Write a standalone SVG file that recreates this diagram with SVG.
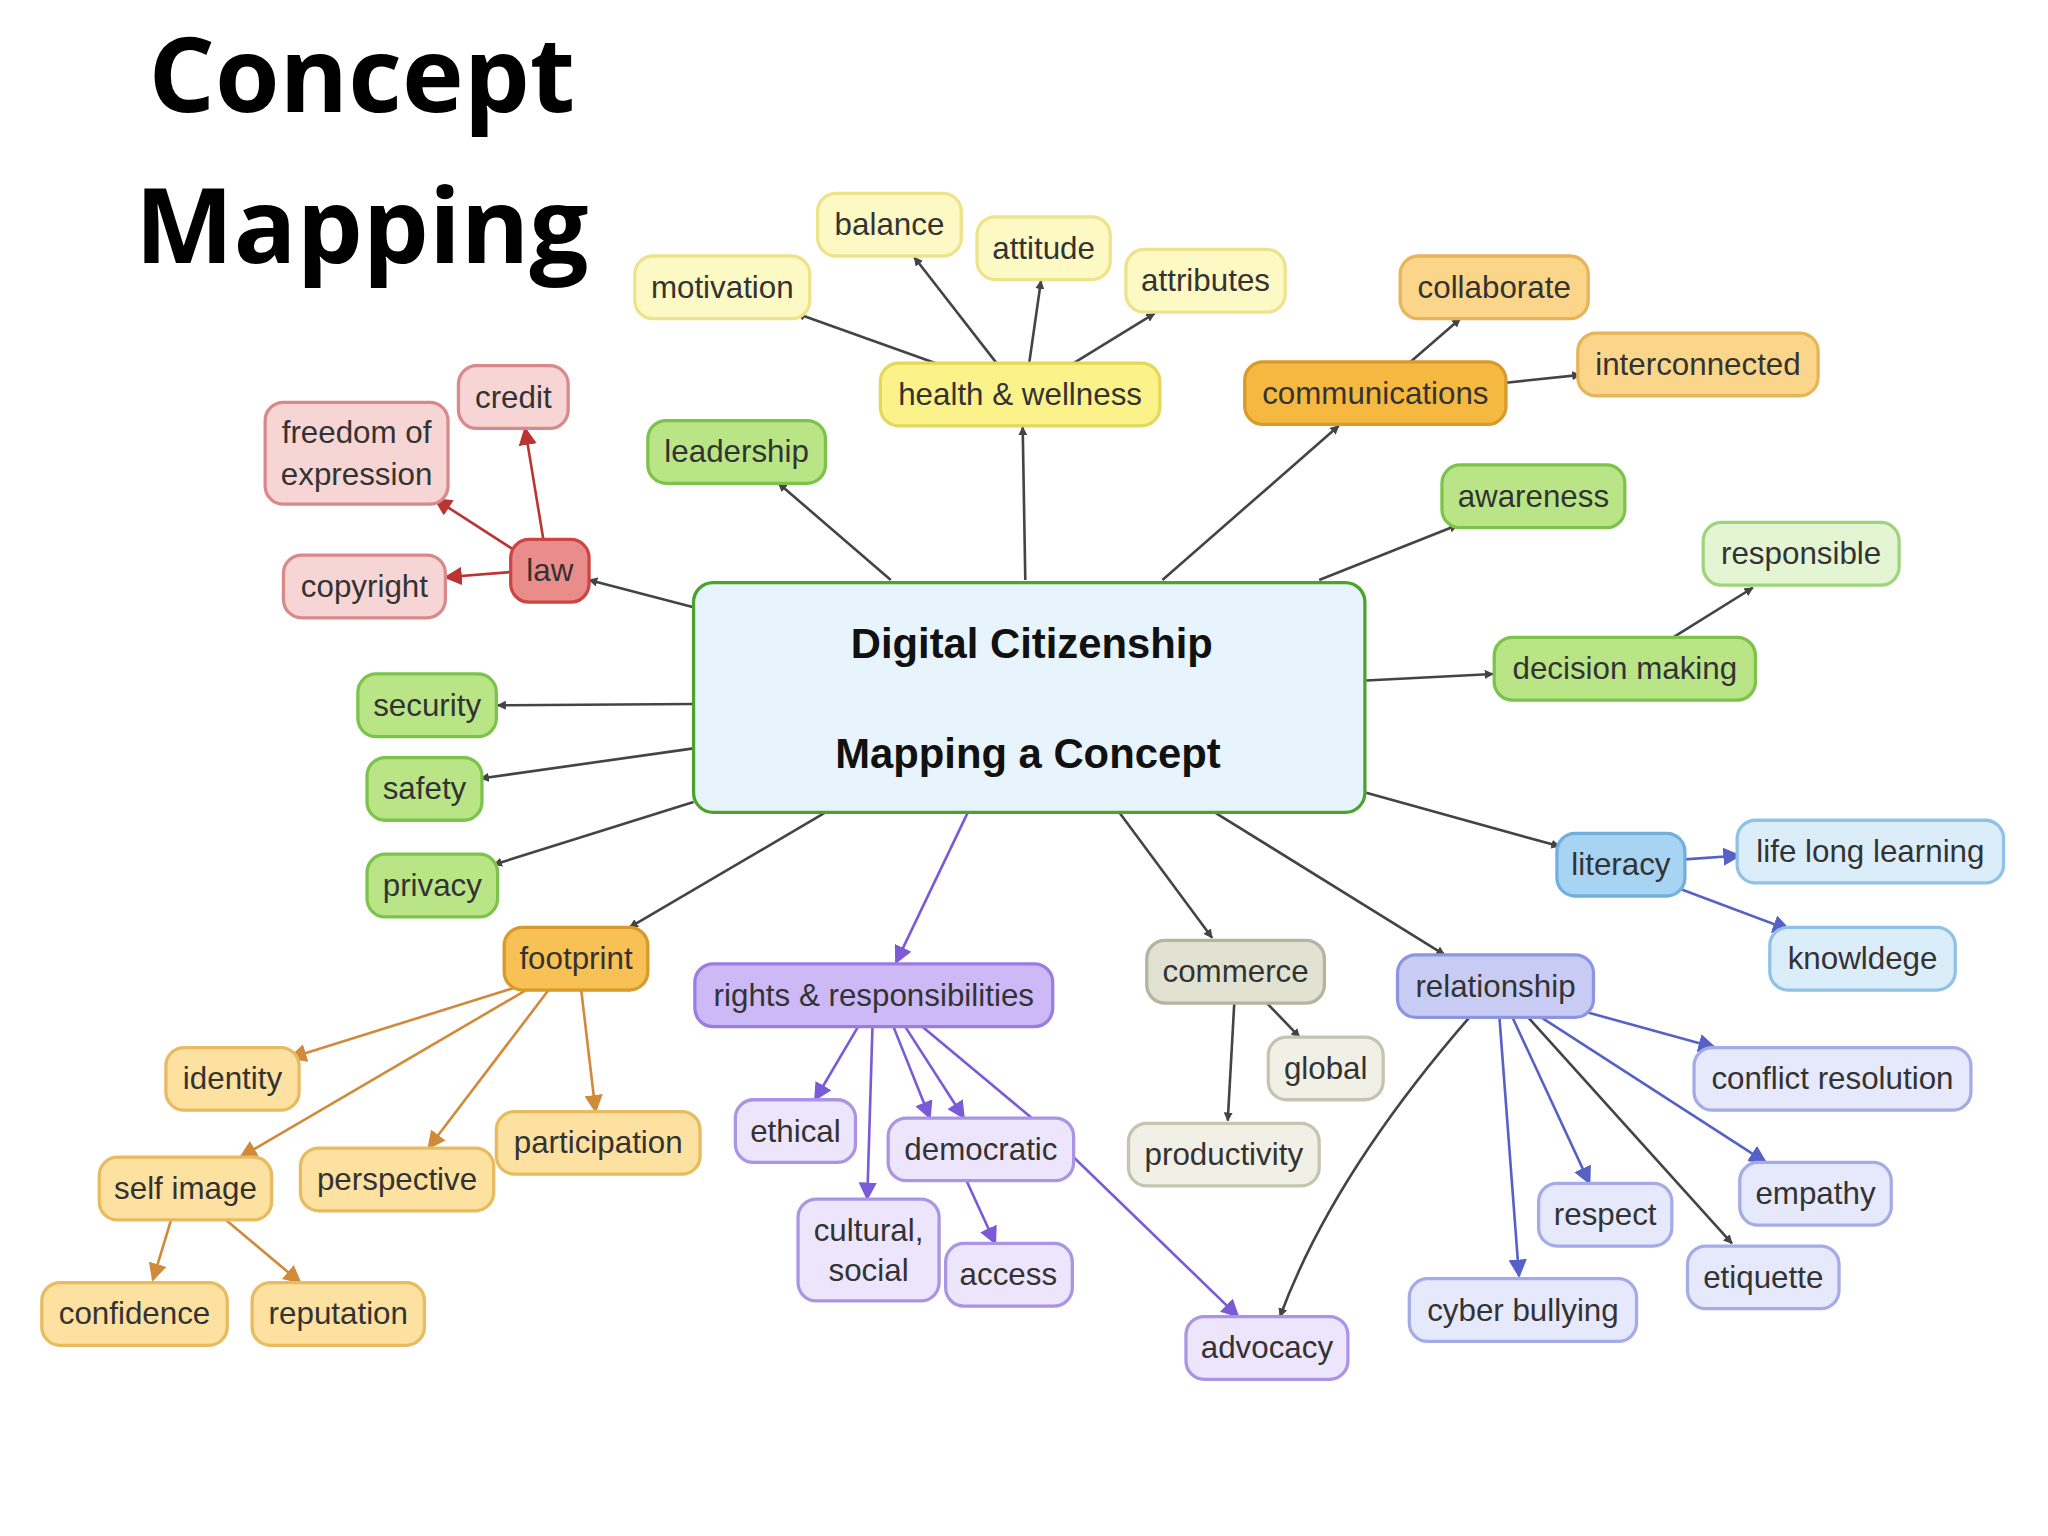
<svg xmlns="http://www.w3.org/2000/svg" width="2048" height="1536" viewBox="0 0 2048 1536">
<defs>
<marker id="aG" viewBox="0 0 10 10" refX="9" refY="5" markerWidth="7" markerHeight="7" orient="auto" markerUnits="userSpaceOnUse"><path d="M0,0L10,5L0,10z" fill="#444"/></marker>
<marker id="aR" viewBox="0 0 10 10" refX="9" refY="5" markerWidth="7" markerHeight="7" orient="auto"><path d="M0,0L10,5L0,10z" fill="#b33"/></marker>
<marker id="aO" viewBox="0 0 10 10" refX="9" refY="5" markerWidth="7" markerHeight="7" orient="auto"><path d="M0,0L10,5L0,10z" fill="#d08a3a"/></marker>
<marker id="aP" viewBox="0 0 10 10" refX="9" refY="5" markerWidth="7" markerHeight="7" orient="auto"><path d="M0,0L10,5L0,10z" fill="#7a5ad6"/></marker>
<marker id="aB" viewBox="0 0 10 10" refX="9" refY="5" markerWidth="7" markerHeight="7" orient="auto"><path d="M0,0L10,5L0,10z" fill="#5561c7"/></marker>
</defs>
<style>
text{font-family:"Liberation Sans",Arial,sans-serif;font-size:24px;fill:#333;text-anchor:middle;dominant-baseline:central}
.t{font-family:"Open Sans","Liberation Sans",sans-serif;font-weight:bold;font-size:80px;fill:#000}
rect{stroke-width:2.5}
.c line,.c path{fill:none;stroke-width:2}
.g{stroke:#444;marker-end:url(#aG)}
.r{stroke:#b33;marker-end:url(#aR)}
.o{stroke:#d08a3a;marker-end:url(#aO)}
.p{stroke:#7a5ad6;marker-end:url(#aP)}
.b{stroke:#5561c7;marker-end:url(#aB)}
.y1{fill:#fdf9c4;stroke:#eee28a}.y2{fill:#fbf28a;stroke:#e5d75a}
.o1{fill:#fbd68a;stroke:#e8b45a}.o2{fill:#f5b942;stroke:#d89a2a}.o3{fill:#fde1a0;stroke:#e8bb60}
.gr1{fill:#b9e587;stroke:#7cc34a}.gr2{fill:#e3f5d3;stroke:#9fd47a}
.r1{fill:#f7d5d5;stroke:#d9898a}.r2{fill:#ea8c8a;stroke:#c44}
.p1{fill:#cdb9f5;stroke:#9a7de3}.p2{fill:#ece5fb;stroke:#a995e3}
.n1{fill:#e2e2d2;stroke:#b4b4a0}.n2{fill:#f0f0e6;stroke:#c4c4b0}
.b1{fill:#a8d4f4;stroke:#6fb0dd}.b2{fill:#dcedfa;stroke:#8fc2e6}
.l1{fill:#c8ccf5;stroke:#8d95e0}.l2{fill:#e6e8fb;stroke:#a5abe6}
</style>
<rect width="2048" height="1536" fill="#fff"/>
<g transform="scale(1.30612)">
<text class="t" x="277" y="55">Concept</text>
<text class="t" x="277" y="170">Mapping</text>
<g class="c" id="connectors">
<line class="g" x1="682" y1="444" x2="596" y2="370"/>
<line class="g" x1="785" y1="444" x2="783" y2="327"/>
<line class="g" x1="890" y1="444" x2="1025" y2="326"/>
<line class="g" x1="1010" y1="444" x2="1116" y2="402"/>
<line class="g" x1="1046" y1="521" x2="1143" y2="516"/>
<line class="g" x1="1046" y1="607" x2="1194" y2="648"/>
<line class="g" x1="930" y1="622" x2="1106" y2="731"/>
<line class="g" x1="857" y1="622" x2="928" y2="718"/>
<line class="g" x1="632" y1="622" x2="482" y2="710"/>
<line class="g" x1="531" y1="614" x2="378" y2="662"/>
<line class="g" x1="531" y1="573" x2="368" y2="596"/>
<line class="g" x1="531" y1="539" x2="381" y2="540"/>
<line class="g" x1="531" y1="465" x2="451" y2="444"/>
<line class="g" x1="716" y1="278" x2="610" y2="240"/>
<line class="g" x1="763" y1="278" x2="700" y2="197"/>
<line class="g" x1="788" y1="278" x2="797" y2="215"/>
<line class="g" x1="822" y1="278" x2="884" y2="240"/>
<line class="g" x1="1080" y1="277" x2="1118" y2="244"/>
<line class="g" x1="1153" y1="293" x2="1210" y2="287"/>
<line class="g" x1="1281" y1="488" x2="1342" y2="450"/>
<line class="g" x1="945" y1="768" x2="940" y2="858"/>
<line class="g" x1="970" y1="768" x2="995" y2="794"/>
<line class="r" x1="416" y1="413" x2="402" y2="328"/>
<line class="r" x1="395" y1="422" x2="333" y2="382"/>
<line class="r" x1="391" y1="438" x2="341" y2="442"/>
<line class="o" x1="398" y1="755" x2="222" y2="810"/>
<line class="o" x1="408" y1="755" x2="184" y2="886"/>
<line class="o" x1="420" y1="758" x2="328" y2="879"/>
<line class="o" x1="445" y1="758" x2="456" y2="851"/>
<line class="o" x1="131" y1="934" x2="117" y2="980"/>
<line class="o" x1="173" y1="934" x2="230" y2="982"/>
<line class="p" x1="741" y1="622" x2="686" y2="737"/>
<line class="p" x1="657" y1="786" x2="624" y2="842"/>
<line class="p" x1="668" y1="786" x2="664" y2="918"/>
<line class="p" x1="684" y1="786" x2="712" y2="856"/>
<line class="p" x1="693" y1="786" x2="738" y2="856"/>
<path class="p" d="M706,786 L790,856 L822,886 L948,1008"/>
<line class="p" x1="740" y1="904" x2="762" y2="952"/>
<line class="b" x1="1290" y1="658" x2="1332" y2="655"/>
<line class="b" x1="1285" y1="680" x2="1370" y2="712"/>
<line class="b" x1="1215" y1="775" x2="1313" y2="802"/>
<line class="b" x1="1180" y1="779" x2="1352" y2="890"/>
<line class="g" x1="1170" y1="779" x2="1326" y2="952"/>
<line class="b" x1="1158" y1="779" x2="1217" y2="906"/>
<line class="b" x1="1148" y1="779" x2="1163" y2="977"/>
<path class="g" d="M1125,779 Q1020,900 980,1008"/>
</g>
<g id="central"><rect x="531" y="446" width="514" height="176" rx="15" fill="#e8f4fb" stroke="#4ca22a" stroke-width="5"/>
<text x="790" y="493" style="font-weight:bold;font-size:32px;fill:#111">Digital Citizenship</text>
<text x="787" y="577" style="font-weight:bold;font-size:32px;fill:#111">Mapping a Concept</text></g>
<g id="balance"><rect class="y1" x="626" y="148" width="110" height="48" rx="14"/><text x="681" y="172">balance</text></g>
<g id="attitude"><rect class="y1" x="748" y="166" width="102" height="48" rx="14"/><text x="799" y="190">attitude</text></g>
<g id="motivation"><rect class="y1" x="486" y="196" width="134" height="48" rx="14"/><text x="553" y="220">motivation</text></g>
<g id="attributes"><rect class="y1" x="862" y="191" width="122" height="48" rx="14"/><text x="923" y="215">attributes</text></g>
<g id="health"><rect class="y2" x="674" y="278" width="214" height="48" rx="14"/><text x="781" y="302">health &amp; wellness</text></g>
<g id="collaborate"><rect class="o1" x="1072" y="196" width="144" height="48" rx="14"/><text x="1144" y="220">collaborate</text></g>
<g id="interconnected"><rect class="o1" x="1208" y="255" width="184" height="48" rx="14"/><text x="1300" y="279">interconnected</text></g>
<g id="communications"><rect class="o2" x="953" y="277" width="200" height="48" rx="14"/><text x="1053" y="301">communications</text></g>
<g id="leadership"><rect class="gr1" x="496" y="322" width="136" height="48" rx="14"/><text x="564" y="346">leadership</text></g>
<g id="awareness"><rect class="gr1" x="1104" y="356" width="140" height="48" rx="14"/><text x="1174" y="380">awareness</text></g>
<g id="responsible"><rect class="gr2" x="1304" y="400" width="150" height="48" rx="14"/><text x="1379" y="424">responsible</text></g>
<g id="decision"><rect class="gr1" x="1144" y="488" width="200" height="48" rx="14"/><text x="1244" y="512">decision making</text></g>
<g id="security"><rect class="gr1" x="274" y="516" width="106" height="48" rx="14"/><text x="327" y="540">security</text></g>
<g id="safety"><rect class="gr1" x="281" y="580" width="88" height="48" rx="14"/><text x="325" y="604">safety</text></g>
<g id="privacy"><rect class="gr1" x="281" y="654" width="100" height="48" rx="14"/><text x="331" y="678">privacy</text></g>
<g id="credit"><rect class="r1" x="351" y="280" width="84" height="48" rx="14"/><text x="393" y="304">credit</text></g>
<g id="freedom"><rect class="r1" x="203" y="308" width="140" height="78" rx="14"/><text x="273" y="331">freedom of</text><text x="273" y="363">expression</text></g>
<g id="law"><rect class="r2" x="391" y="413" width="60" height="48" rx="14"/><text x="421" y="437">law</text></g>
<g id="copyright"><rect class="r1" x="217" y="425" width="124" height="48" rx="14"/><text x="279" y="449">copyright</text></g>
<g id="footprint"><rect class="o2" x="386" y="710" width="110" height="48" rx="14" style="fill:#f8c155"/><text x="441" y="734">footprint</text></g>
<g id="identity"><rect class="o3" x="127" y="802" width="102" height="48" rx="14"/><text x="178" y="826">identity</text></g>
<g id="participation"><rect class="o3" x="380" y="851" width="156" height="48" rx="14"/><text x="458" y="875">participation</text></g>
<g id="perspective"><rect class="o3" x="230" y="879" width="148" height="48" rx="14"/><text x="304" y="903">perspective</text></g>
<g id="selfimage"><rect class="o3" x="76" y="886" width="132" height="48" rx="14"/><text x="142" y="910">self image</text></g>
<g id="confidence"><rect class="o3" x="32" y="982" width="142" height="48" rx="14"/><text x="103" y="1006">confidence</text></g>
<g id="reputation"><rect class="o3" x="193" y="982" width="132" height="48" rx="14"/><text x="259" y="1006">reputation</text></g>
<g id="rights"><rect class="p1" x="532" y="738" width="274" height="48" rx="14"/><text x="669" y="762">rights &amp; responsibilities</text></g>
<g id="ethical"><rect class="p2" x="563" y="842" width="92" height="48" rx="14"/><text x="609" y="866">ethical</text></g>
<g id="democratic"><rect class="p2" x="680" y="856" width="142" height="48" rx="14"/><text x="751" y="880">democratic</text></g>
<g id="cultural"><rect class="p2" x="611" y="918" width="108" height="78" rx="14"/><text x="665" y="942">cultural,</text><text x="665" y="973">social</text></g>
<g id="access"><rect class="p2" x="724" y="952" width="97" height="48" rx="14"/><text x="772" y="976">access</text></g>
<g id="advocacy"><rect class="p2" x="908" y="1008" width="124" height="48" rx="14"/><text x="970" y="1032">advocacy</text></g>
<g id="commerce"><rect class="n1" x="878" y="720" width="136" height="48" rx="14"/><text x="946" y="744">commerce</text></g>
<g id="global"><rect class="n2" x="971" y="794" width="88" height="48" rx="14"/><text x="1015" y="818">global</text></g>
<g id="productivity"><rect class="n2" x="864" y="860" width="146" height="48" rx="14"/><text x="937" y="884">productivity</text></g>
<g id="literacy"><rect class="b1" x="1192" y="638" width="98" height="48" rx="14"/><text x="1241" y="662">literacy</text></g>
<g id="lifelong"><rect class="b2" x="1330" y="628" width="204" height="48" rx="14"/><text x="1432" y="652">life long learning</text></g>
<g id="knowldege"><rect class="b2" x="1355" y="710" width="142" height="48" rx="14"/><text x="1426" y="734">knowldege</text></g>
<g id="relationship"><rect class="l1" x="1070" y="731" width="150" height="48" rx="14"/><text x="1145" y="755">relationship</text></g>
<g id="conflict"><rect class="l2" x="1297" y="802" width="212" height="48" rx="14"/><text x="1403" y="826">conflict resolution</text></g>
<g id="empathy"><rect class="l2" x="1332" y="890" width="116" height="48" rx="14"/><text x="1390" y="914">empathy</text></g>
<g id="respect"><rect class="l2" x="1178" y="906" width="102" height="48" rx="14"/><text x="1229" y="930">respect</text></g>
<g id="etiquette"><rect class="l2" x="1292" y="954" width="116" height="48" rx="14"/><text x="1350" y="978">etiquette</text></g>
<g id="cyberbullying"><rect class="l2" x="1079" y="979" width="174" height="48" rx="14"/><text x="1166" y="1003">cyber bullying</text></g>
</g>
</svg>
